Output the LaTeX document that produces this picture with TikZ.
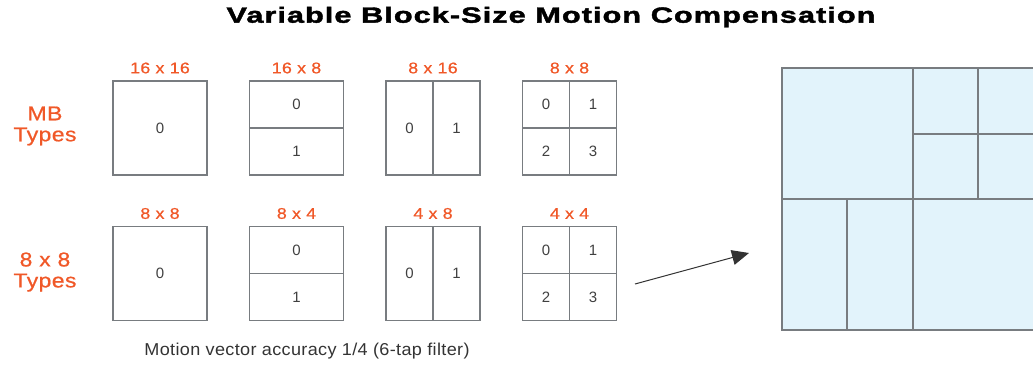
\documentclass[tikz,border=0pt]{standalone}
\usepackage{fontspec}
\setmainfont{Liberation Sans}
\newfontfamily\heavyfont[BoldFeatures={FakeBold=1.8,FakeStretch=1.4,LetterSpace=4.5}]{Liberation Sans}
\newfontfamily\labelfont[FakeBold=0.7,FakeStretch=1.15,LetterSpace=2]{Liberation Sans}
\newfontfamily\capfont[FakeStretch=1.05,LetterSpace=2]{Liberation Sans}
\usepackage{xcolor}
\usetikzlibrary{arrows.meta}
\definecolor{mborange}{RGB}{240,88,40}
\definecolor{mbblue}{RGB}{226,243,251}
\definecolor{mbgray}{RGB}{120,124,128}

\begin{document}
\begin{tikzpicture}[x=1pt,y=-1pt,
  blk/.style={draw=mbgray,line width=1.4pt},
  num/.style={font=\fontsize{15}{15}\selectfont,text=black!75},
  szlbl/.style={font=\labelfont\fontsize{15.5}{15.5}\selectfont,text=mborange},
  rowlbl/.style={font=\labelfont\fontsize{20}{21}\selectfont,text=mborange,align=center}]
\useasboundingbox (0,0) rectangle (1033,364);
\node[font=\heavyfont\bfseries\fontsize{22}{22}\selectfont] (title) at (551,17) {Variable Block-Size Motion Compensation};
% left hand labels
\node[rowlbl] (mbtypes) at (45,126) {MB\\Types};
\node[rowlbl] (subtypes) at (45,272) {8 x 8\\Types};
% partition blocks, one column per mode
\foreach \r/\y/\la/\lb/\lc/\ld in {1/81/16 x 16/16 x 8/8 x 16/8 x 8, 2/226.5/8 x 8/8 x 4/4 x 8/4 x 4} {
  \foreach \c/\x/\lab in {1/113/\la, 2/249.5/\lb, 3/386/\lc, 4/522.5/\ld} {
    \draw[blk] (\x,\y) rectangle ++(94,94);
    \node[szlbl] (sz\r\c) at (\x+47,\y-13) {\lab};
  }
  \node[num] (n\r1a) at (160,\y+47) {0};
  \draw[blk] (249.5,\y+47) -- ++(94,0);
  \node[num] (n\r2a) at (296.5,\y+23.5) {0};
  \node[num] (n\r2b) at (296.5,\y+70.5) {1};
  \draw[blk] (433,\y) -- ++(0,94);
  \node[num] (n\r3a) at (409.5,\y+47) {0};
  \node[num] (n\r3b) at (456.5,\y+47) {1};
  \draw[blk] (569.5,\y) -- ++(0,94) (522.5,\y+47) -- ++(94,0);
  \node[num] (n\r4a) at (546,\y+23.5) {0};
  \node[num] (n\r4b) at (593,\y+23.5) {1};
  \node[num] (n\r4c) at (546,\y+70.5) {2};
  \node[num] (n\r4d) at (593,\y+70.5) {3};
}
\node[font=\capfont\fontsize{17.2}{17.2}\selectfont,text=black!80] (mvacc) at (307,351) {Motion vector accuracy 1/4 (6-tap filter)};
% arrow into the combined macroblock
\coordinate (arrfrom) at (635,284);
\coordinate (arrto) at (749,253);
\draw[line width=1pt,black!80,-{Triangle[length=17pt,width=15pt]}] (arrfrom) -- (arrto);
% combined macroblock
\draw[blk,line width=1.2pt,fill=mbblue] (782,68) rectangle (1044,330);
\draw[blk,line width=1.2pt] (782,199) -- (1044,199) (913,68) -- (913,330)
  (978,68) -- (978,199) (913,134) -- (1044,134) (847,199) -- (847,330);
\end{tikzpicture}
\end{document}
